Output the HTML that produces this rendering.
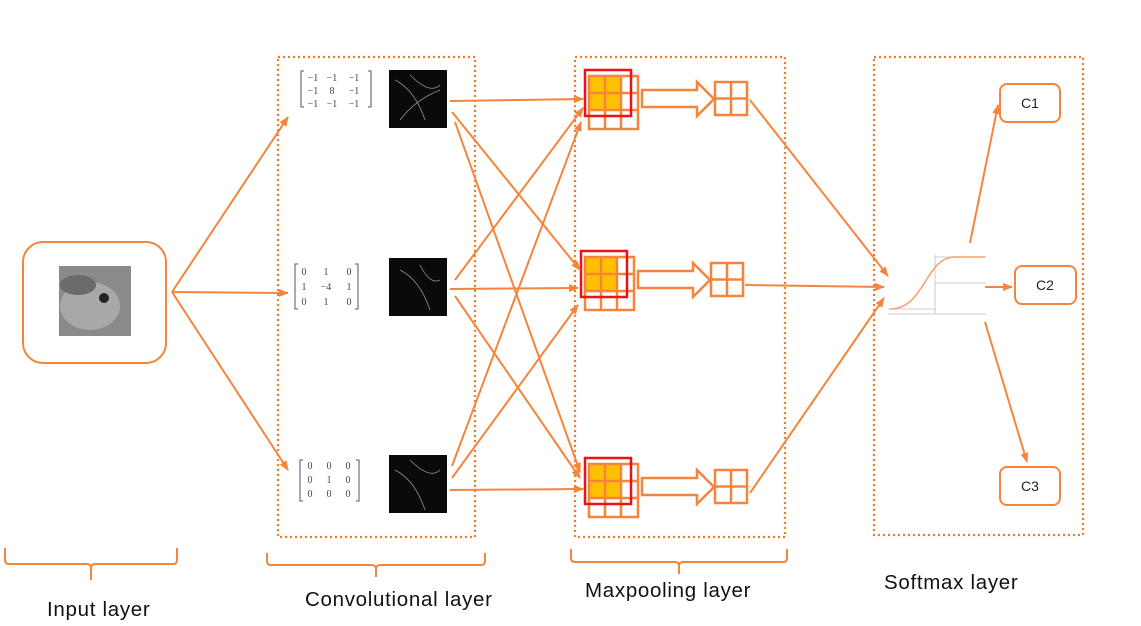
<!DOCTYPE html>
<html><head><meta charset="utf-8"><style>
body{margin:0;background:#fff;}
svg{display:block;font-family:"Liberation Sans",sans-serif;}
</style></head><body>
<svg width="1141" height="626" viewBox="0 0 1141 626" xmlns="http://www.w3.org/2000/svg">
<defs>
<marker id="ah" markerWidth="10" markerHeight="8" refX="9" refY="4" orient="auto" markerUnits="userSpaceOnUse">
<path d="M0,0 L10,4 L0,8 Z" fill="#F5843C"/></marker>
<g id="pool">
<rect x="4" y="6" width="32" height="34" fill="#FFC000"/>
<g stroke="#F5843C" stroke-width="2.5" fill="none">
<rect x="4" y="6" width="49" height="53"/>
<line x1="20" y1="6" x2="20" y2="59"/><line x1="36" y1="6" x2="36" y2="59"/>
<line x1="4" y1="23" x2="53" y2="23"/><line x1="4" y1="40" x2="53" y2="40"/>
</g>
<rect x="0" y="0" width="46" height="46" fill="none" stroke="#EE1111" stroke-width="2.5"/>
<path d="M57,20 H112 V12 L129,29 L112,46 V37 H57 Z" fill="#fff" stroke="#F5843C" stroke-width="2.5"/>
<g stroke="#F5843C" stroke-width="2.5" fill="none">
<rect x="130" y="12" width="32" height="33"/>
<line x1="146" y1="12" x2="146" y2="45"/><line x1="130" y1="28.5" x2="162" y2="28.5"/>
</g>
</g>
</defs>
<g fill="none" stroke="#F07A2A" stroke-width="2.2" stroke-dasharray="2,3">
<rect x="278" y="57" width="197" height="480"/>
<rect x="575" y="57" width="210" height="480"/>
<rect x="874" y="57" width="209" height="478"/>
</g>
<rect x="23" y="242" width="143" height="121" rx="20" fill="none" stroke="#F5843C" stroke-width="2"/>
<rect x="59" y="266" width="72" height="70" fill="#8a8a8a"/>
<ellipse cx="90" cy="306" rx="30" ry="24" fill="#a8a8a8"/>
<ellipse cx="78" cy="285" rx="18" ry="10" fill="#6a6a6a"/>
<circle cx="104" cy="298" r="5" fill="#222"/>
<!-- matrices -->
<g font-family="Liberation Serif,serif" font-size="10" fill="#444" text-anchor="middle">
<text x="313" y="81">−1</text><text x="332" y="81">−1</text><text x="354" y="81">−1</text>
<text x="313" y="94">−1</text><text x="332" y="94">8</text><text x="354" y="94">−1</text>
<text x="313" y="107">−1</text><text x="332" y="107">−1</text><text x="354" y="107">−1</text>
<text x="304" y="275">0</text><text x="326" y="275">1</text><text x="349" y="275">0</text>
<text x="304" y="290">1</text><text x="326" y="290">−4</text><text x="349" y="290">1</text>
<text x="304" y="305">0</text><text x="326" y="305">1</text><text x="349" y="305">0</text>
<text x="310" y="469">0</text><text x="329" y="469">0</text><text x="348" y="469">0</text>
<text x="310" y="483">0</text><text x="329" y="483">1</text><text x="348" y="483">0</text>
<text x="310" y="497">0</text><text x="329" y="497">0</text><text x="348" y="497">0</text>
</g>
<g stroke="#555" fill="none" stroke-width="1">
<path d="M304,71 h-3 v36 h3 M368,71 h3 v36 h-3"/>
<path d="M298,264 h-3 v45 h3 M355,264 h3 v45 h-3"/>
<path d="M303,460 h-3 v41 h3 M356,460 h3 v41 h-3"/>
</g>
<rect x="389" y="70" width="58" height="58" fill="#0a0a0a"/>
<rect x="389" y="258" width="58" height="58" fill="#0a0a0a"/>
<rect x="389" y="455" width="58" height="58" fill="#0a0a0a"/>
<g stroke="#ccc" fill="none" stroke-width="0.8" opacity="0.7">
<path d="M395,80 q20,10 30,40 M410,75 q20,20 30,10 M400,120 q15,-20 40,-30"/>
<path d="M400,270 q20,10 30,40 M420,265 q10,20 20,15"/>
<path d="M395,470 q20,10 30,40 M410,460 q20,20 30,10"/>
</g>
<!-- pools -->
<use href="#pool" x="585" y="70"/>
<use href="#pool" x="581" y="251"/>
<use href="#pool" x="585" y="458"/>
<!-- sigmoid -->
<g stroke="#bbb" stroke-width="0.8" fill="none">
<line x1="888" y1="314" x2="986" y2="314"/>
<line x1="935" y1="255" x2="935" y2="314"/>
<line x1="935" y1="257" x2="986" y2="257"/>
<line x1="935" y1="283" x2="986" y2="283"/>
<line x1="888" y1="309" x2="935" y2="309"/>
</g>
<path d="M890,309 C925,309 925,257 955,257 L985,257" stroke="#F5A070" stroke-width="1.5" fill="none"/>
<!-- arrows -->
<g stroke="#F5843C" stroke-width="2" fill="none" marker-end="url(#ah)">
<line x1="172" y1="292" x2="288" y2="117"/>
<line x1="172" y1="292" x2="288" y2="293"/>
<line x1="172" y1="292" x2="288" y2="470"/>
<line x1="450" y1="101" x2="583" y2="99"/>
<line x1="452" y1="112" x2="580" y2="270"/>
<line x1="455" y1="122" x2="580" y2="472"/>
<line x1="450" y1="289" x2="578" y2="288"/>
<line x1="455" y1="280" x2="583" y2="108"/>
<line x1="455" y1="296" x2="580" y2="478"/>
<line x1="450" y1="490" x2="583" y2="489"/>
<line x1="452" y1="466" x2="581" y2="122"/>
<line x1="452" y1="478" x2="578" y2="305"/>
<line x1="750" y1="100" x2="888" y2="276"/>
<line x1="745" y1="285" x2="884" y2="287"/>
<line x1="750" y1="493" x2="884" y2="298"/>
<line x1="970" y1="243" x2="998" y2="105"/>
<line x1="985" y1="287" x2="1012" y2="287"/>
<line x1="985" y1="322" x2="1027" y2="462"/>
</g>
<g fill="#fff" stroke="#F5843C" stroke-width="2">
<rect x="1000" y="84" width="60" height="38" rx="7"/>
<rect x="1015" y="266" width="61" height="38" rx="7"/>
<rect x="1000" y="467" width="60" height="38" rx="7"/>
</g>
<g font-size="14" fill="#222" text-anchor="middle">
<text x="1030" y="108">C1</text><text x="1045" y="290">C2</text><text x="1030" y="491">C3</text>
</g>
<!-- braces -->
<g stroke="#F5843C" stroke-width="2" fill="none">
<path d="M5,548 v12 q0,4 4,4 h78 q4,0 4,4 v12 M91,568 q0,-4 4,-4 h78 q4,0 4,-4 v-12"/>
<path d="M267,553 v8 q0,4 4,4 h101 q4,0 4,4 v8 M376,569 q0,-4 4,-4 h101 q4,0 4,-4 v-8"/>
<path d="M571,549 v9 q0,4 4,4 h100 q4,0 4,4 v8 M679,566 q0,-4 4,-4 h100 q4,0 4,-4 v-9"/>
</g>
<g font-size="20.5" fill="#111" letter-spacing="0.7">
<text x="47" y="616">Input layer</text>
<text x="305" y="606">Convolutional layer</text>
<text x="585" y="597">Maxpooling layer</text>
<text x="884" y="589">Softmax layer</text>
</g>
</svg>
</body></html>
